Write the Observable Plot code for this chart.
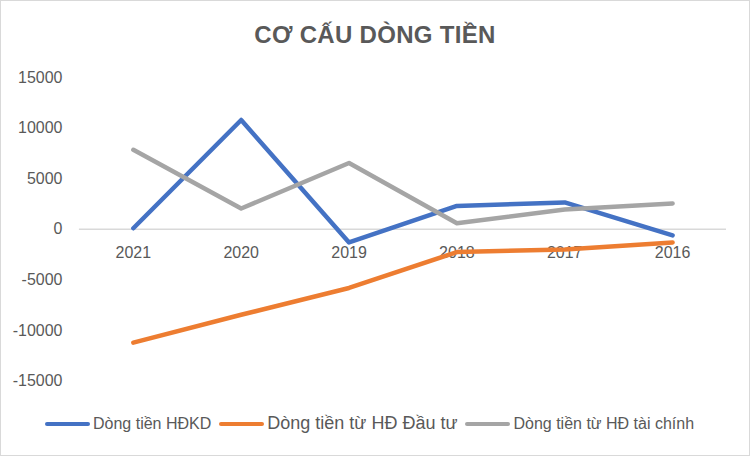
<!DOCTYPE html>
<html><head><meta charset="utf-8">
<script src="https://cdn.jsdelivr.net/npm/d3@7"></script>
<script src="https://cdn.jsdelivr.net/npm/@observablehq/plot@0.6"></script>
<style>
body{margin:0;background:#fff;}
#wrap{position:relative;width:748px;height:454px;border:1px solid #d9d9d9;background:#fff;font-family:"Liberation Sans",Arial,sans-serif;overflow:hidden;}
#title{position:absolute;left:0;top:20px;width:100%;text-align:center;font-size:24px;font-weight:bold;color:#595959;letter-spacing:0.3px;}
#chart{position:absolute;left:-1px;top:59px;}
#legend{position:absolute;left:44px;top:412px;display:flex;align-items:center;color:#595959;white-space:nowrap;}
.item{display:flex;align-items:center;margin-right:8px;}
.sw{display:inline-block;width:45px;height:4px;border-radius:2px;margin-right:3px;}
</style></head>
<body><div id="wrap"><div id="title">CƠ CẤU DÒNG TIỀN</div><div id="chart"></div><div id="legend"></div></div>
<script>
const years = ["2021","2020","2019","2018","2017","2016"];
const seriesNames = ["Dòng tiền HĐKD","Dòng tiền từ HĐ Đầu tư","Dòng tiền từ HĐ tài chính"];
const hdkd = [100, 10800, -1300, 2300, 2650, -600];
const dauTu = [-11200, -8450, -5800, -2250, -2000, -1300];
const taiChinh = [7850, 2050, 6550, 600, 1950, 2550];
const colors = ["#4472C4","#ED7D31","#A5A5A5"];
const yTicks = [15000,10000,5000,0,-5000,-10000,-15000];

const allVals = [hdkd, dauTu, taiChinh];
const data = [];
seriesNames.forEach((s,i)=>years.forEach((y,j)=>data.push({series:s, year:y, value:allVals[i][j]})));

const chart = Plot.plot({
  width: 750, height: 340,
  marginLeft: 79, marginRight: 23, marginTop: 17, marginBottom: 19,
  style: {fontFamily:"Liberation Sans, Arial, sans-serif", fontSize:"16px", color:"#595959", background:"transparent"},
  x: {type:"point", domain: years, padding: 0.5, axis: null},
  y: {domain:[-15000,15000], ticks: yTicks, tickFormat: d=>String(d), tickSize: 0, tickPadding: 17, label: null},
  color: {domain: seriesNames, range: colors},
  marks: [
    Plot.ruleY([0], {stroke:"#d9d9d9", strokeWidth:1.5}),
    Plot.text(years, {x: d=>d, y: 0, text: d=>d, dy: 24, fill:"#595959", fontSize: 16}),
    Plot.line(data, {x:"year", y:"value", z:"series", stroke:"series", strokeWidth:4.5, strokeLinecap:"round", strokeLinejoin:"round"})
  ]
});
document.getElementById("chart").appendChild(chart);

const leg = document.getElementById("legend");
const sizes = [16, 18, 16];
seriesNames.forEach((s,i)=>{
  const it = document.createElement("div"); it.className="item";
  const sw = document.createElement("span"); sw.className="sw"; sw.style.background=colors[i];
  const tx = document.createElement("span"); tx.textContent=s; tx.style.fontSize=sizes[i]+"px";
  it.appendChild(sw); it.appendChild(tx); leg.appendChild(it);
});
</script></body></html>
